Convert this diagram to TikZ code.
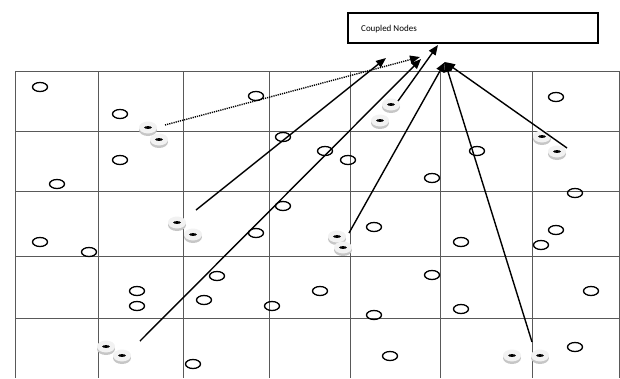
\documentclass[tikz,border=0pt]{standalone}
\usepackage{fontspec}
\setmainfont{Carlito}
\usetikzlibrary{arrows.meta,shapes.geometric}
\tikzset{
  gridline/.style={draw=black!65, line width=0.8pt},
  plain/.style={draw=black, line width=1.3pt, ellipse, minimum width=15pt, minimum height=9pt, inner sep=0pt},
  donutnode/.style={ellipse, minimum width=18pt, minimum height=13pt, inner sep=0pt},
  link/.style={draw=black, line width=1.4pt, -{Triangle[length=10pt,width=8pt]}},
  dlink/.style={link, dash pattern=on 1.2pt off 1pt},
  titlebox/.style={draw=black, line width=1.4pt, minimum width=250pt, minimum height=30pt, inner sep=0pt}
}
\newcommand{\dnut}[3]{%
  \fill[gray!45] (#2,#3+2) ellipse (9pt and 6pt);
  \fill[gray!10] (#2,#3-0.5) ellipse (9pt and 6pt);
  \fill[black] (#2,#3-0.5) ellipse (3.8pt and 1.4pt);
  \node[donutnode] (#1) at (#2,#3) {};
}
\begin{document}
\begin{tikzpicture}[x=1pt,y=-1pt]
\useasboundingbox (0,0) rectangle (620,378);
% grid
\foreach \gx in {15,98,183,269,350,440,532,619} {\draw[gridline] (\gx,71) -- (\gx,378);}
\foreach \gy in {71,131,191,256,318} {\draw[gridline] (15,\gy) -- (619,\gy);}
% title box
\node[titlebox] (cn) at (473,28) {};
\node[anchor=west, font=\fontsize{9}{10}\selectfont, inner sep=0pt] (cnt) at (361,29) {Coupled Nodes};
% plain nodes
\foreach \n/\px/\py in {1/40/87, 2/120/114, 3/256/96, 4/283/137, 5/120/160, 6/57/184, 7/283/206,
  8/40/242, 9/89/252, 10/256/233, 11/217/276, 12/137/291, 13/137/306, 14/204/300, 15/272/306,
  16/193/364, 17/325/151, 18/348/160, 19/432/178, 20/477/151, 21/575/193, 22/374/227,
  23/461/242, 24/556/230, 25/541/245, 26/432/275, 27/320/291, 28/374/315, 29/461/309,
  30/591/291, 31/390/356, 32/575/347, 33/556/97}
  {\node[plain] (p\n) at (\px,\py) {};}
% coupled nodes
\dnut{a1}{148}{128}\dnut{a2}{159}{140}
\dnut{b1}{177}{223}\dnut{b2}{193}{235}
\dnut{c1}{391}{105}\dnut{c2}{380}{121}
\dnut{d1}{106}{347}\dnut{d2}{122}{356}
\dnut{e1}{337}{237}\dnut{e2}{343}{248}
\dnut{f1}{542}{137}\dnut{f2}{557}{152}
\dnut{g1}{512}{356}\dnut{g2}{540}{356}
% connector ends
\coordinate (sa) at (165,125);
\coordinate (sb) at (196,210);
\coordinate (sc) at (398,101);
\coordinate (sd) at (140,341);
\coordinate (se) at (349,233);
\coordinate (sf) at (567,148);
\coordinate (sg) at (532,342);
\coordinate (ta) at (420,57);
\coordinate (t1) at (386,58);
\coordinate (t2) at (421,59);
\coordinate (t3) at (438,45);
\coordinate (t4) at (445,62);
% connectors
\draw[dlink] (sa) -- (ta);
\draw[link] (sb) -- (t1);
\draw[link] (sd) -- (t2);
\draw[link] (sc) -- (t3);
\draw[link] (se) -- (t4);
\draw[link] (sg) -- (t4);
\draw[link] (sf) -- (t4);
\end{tikzpicture}
\end{document}
